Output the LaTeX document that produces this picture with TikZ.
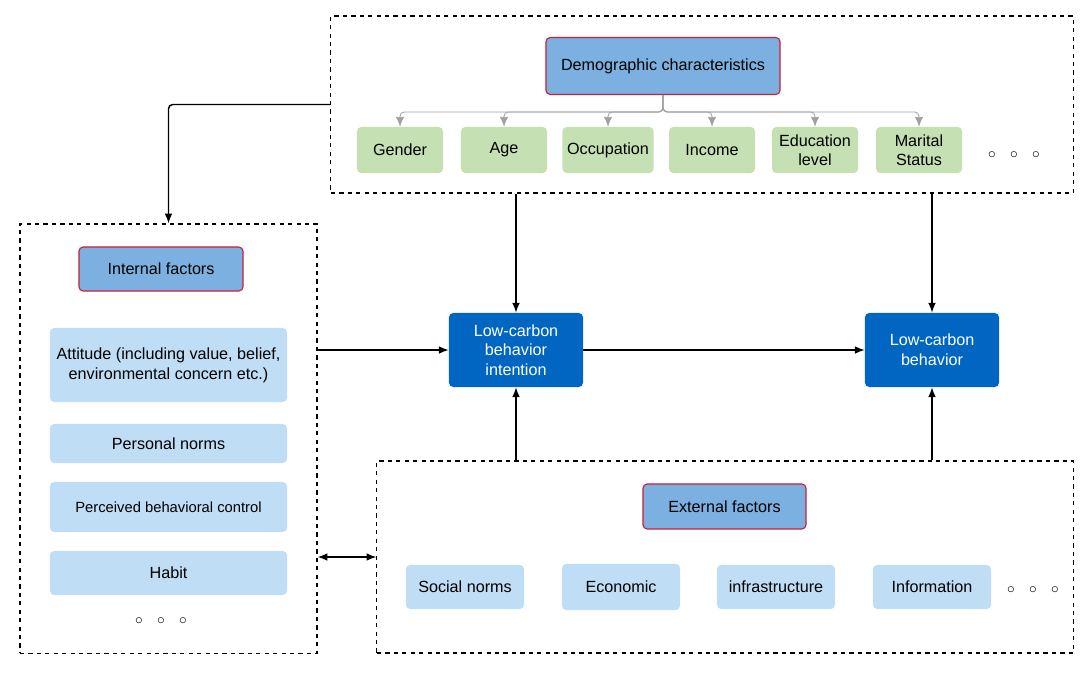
\documentclass[tikz,border=0pt]{standalone}
\usepackage{fontspec}
\setmainfont{Liberation Sans}
\usepackage{tikz}
\usetikzlibrary{arrows.meta}
\tikzset{>={Latex[length=7pt, width=5.5pt]}}
\definecolor{headblue}{HTML}{7BB0E0}
\definecolor{headred}{HTML}{C8213A}
\definecolor{itemgreen}{HTML}{C5E0B2}
\definecolor{itemblue}{HTML}{BFDDF5}
\definecolor{coreblue}{HTML}{0066C2}
\definecolor{treegray}{HTML}{A0A0A0}
\tikzset{
  group/.style={draw, dashed, thick},
  head/.style={draw=headred, thick, fill=headblue, rounded corners=3pt, align=center, font=\fontsize{11.5}{14}\selectfont},
  demo/.style={fill=itemgreen, rounded corners=3pt, minimum width=2.15cm, minimum height=1.15cm, align=center, font=\fontsize{11.5}{13.5}\selectfont},
  item/.style={fill=itemblue, rounded corners=3pt, align=center, font=\fontsize{11.5}{14}\selectfont},
  core/.style={fill=coreblue, rounded corners=3pt, text=white, minimum width=3.35cm, minimum height=1.85cm, align=center, font=\fontsize{11.5}{14}\selectfont},
  tree/.style={draw=treegray, semithick, rounded corners=3pt, -{Latex[length=7pt, width=6pt]}},
  link/.style={line width=1pt, ->},
  etc/.style={font=\fontsize{11}{13}\selectfont}
}
\newcommand{\etcdots}{$\circ\hspace{0.27cm}\circ\hspace{0.27cm}\circ$}

\begin{document}
\begin{tikzpicture}[x=0.025cm, y=-0.025cm]
    \useasboundingbox (0, 0) rectangle (1089, 675);
    % groups
    \node[group, minimum width=18.55cm, minimum height=4.425cm](top) at (702, 104.5){};
    \node[group, minimum width=7.425cm, minimum height=10.725cm](inner) at (168.5, 438.5){};
    \node[group, minimum width=17.4cm, minimum height=4.8cm](outer) at (725, 557){};
    % demographic characteristics
    \node[head, minimum width=5.85cm, minimum height=1.425cm](dem) at (663, 66){Demographic characteristics};
    \node[demo](gender) at (400, 150){Gender};
    \node[demo](age) at (504, 150){Age};
    \node[demo](occ) at (608, 150){Occupation};
    \node[demo](income) at (712, 150){Income};
    \node[demo](edu) at (815, 150){Education\\level};
    \node[demo](marital) at (919, 150){Marital\\Status};
    \node[etc](demdots) at (1014, 155){\etcdots};
    \coordinate (split) at (663, 112);
    \foreach \n in {gender, age, occ, income, edu, marital}
        \draw[tree](dem.south)--(dem.south |- split)-|(\n.north);
    % internal factors
    \node[head, minimum width=4.1cm, minimum height=1.1cm](intf) at (161, 269){Internal factors};
    \node[item, minimum width=5.925cm, minimum height=1.85cm](attitude) at (168.5, 365){Attitude (including value, belief,\\environmental concern etc.)};
    \node[item, minimum width=5.925cm, minimum height=0.975cm](pnorms) at (168.5, 443.5){Personal norms};
    \node[item, minimum width=5.925cm, minimum height=1.25cm, font=\fontsize{10.5}{12}\selectfont](pbc) at (168.5, 507){Perceived behavioral control};
    \node[item, minimum width=5.925cm, minimum height=1.1cm](habit) at (168.5, 573){Habit};
    \node[etc](intdots) at (161, 621){\etcdots};
    % external factors
    \node[head, minimum width=4.075cm, minimum height=1.125cm](extf) at (724.5, 506.5){External factors};
    \node[item, minimum width=2.95cm, minimum height=1.1cm](snorms) at (465, 587){Social norms};
    \node[item, minimum width=2.95cm, minimum height=1.15cm](econ) at (621, 587){Economic};
    \node[item, minimum width=2.95cm, minimum height=1.1cm](infra) at (776, 587){infrastructure};
    \node[item, minimum width=2.95cm, minimum height=1.1cm](info) at (932, 587){Information};
    \node[etc](extdots) at (1033, 590){\etcdots};
    % behavior
    \node[core](intent) at (516, 350){Low-carbon\\behavior\\intention};
    \node[core](behav) at (932, 350){Low-carbon\\behavior};
    % links
    \draw[link, rounded corners=3pt](top.west)-|(inner.north);
    \draw[link](intent |- top.south)--(intent.north);
    \draw[link](behav |- top.south)--(behav.north);
    \draw[link](inner.east |- intent)--(intent.west);
    \draw[link](intent.east)--(behav.west);
    \draw[link](intent |- outer.north)--(intent.south);
    \draw[link](behav |- outer.north)--(behav.south);
    \draw[link, <->](inner.east |- outer)--(outer.west);
\end{tikzpicture}
\end{document}
